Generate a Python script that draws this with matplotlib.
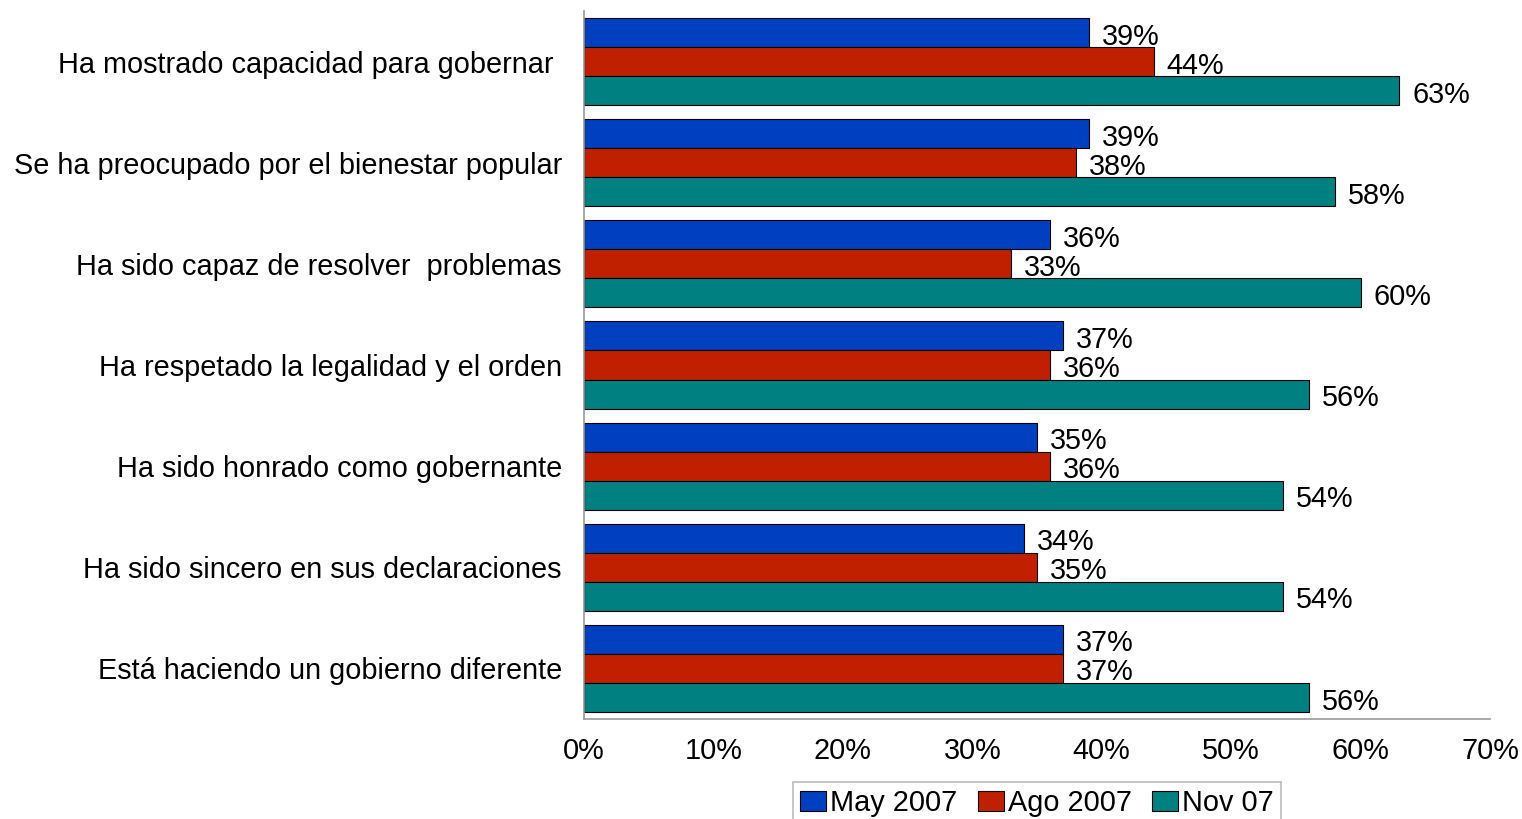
import matplotlib.pyplot as plt
import numpy as np

plt.rcParams['font.family'] = ['Liberation Sans', 'DejaVu Sans']

categories = [
    "Ha mostrado capacidad para gobernar ",
    "Se ha preocupado por el bienestar popular",
    "Ha sido capaz de resolver  problemas",
    "Ha respetado la legalidad y el orden",
    "Ha sido honrado como gobernante",
    "Ha sido sincero en sus declaraciones",
    "Está haciendo un gobierno diferente",
]
may_2007 = [39, 39, 36, 37, 35, 34, 37]
ago_2007 = [44, 38, 33, 36, 36, 35, 37]
nov_07 = [63, 58, 60, 56, 54, 54, 56]
series_names = ["May 2007", "Ago 2007", "Nov 07"]
colors = ["#0040C0", "#C02000", "#008080"]

fs = 20.8

fig = plt.figure(figsize=(15.22, 8.19), dpi=100)
ax = fig.add_axes([0.3837, 0.1221, 0.979 - 0.3837, 0.9866 - 0.1221])

y = np.arange(len(categories))
h = 0.287
for i, (vals, name, c) in enumerate(zip([may_2007, ago_2007, nov_07], series_names, colors)):
    pos = y + (i - 1) * h
    ax.barh(pos, vals, height=h, color=c, edgecolor='black', linewidth=0.8, label=name)
    for p, v in zip(pos, vals):
        ax.text(v + 1.0, p + 0.04, f"{v}%", va='center', ha='left', fontsize=fs)

ax.set_xlim(0, 70)
ax.set_ylim(len(categories) - 0.5, -0.5)
ax.set_yticks(y)
ax.set_yticklabels(categories, fontsize=fs)
ax.set_xticks(np.arange(0, 71, 10))
ax.set_xticklabels([f"{t}%" for t in range(0, 71, 10)], fontsize=fs)
ax.tick_params(length=0)
ax.tick_params(axis='y', pad=16)
ax.tick_params(axis='x', pad=13)
for s in ['top', 'right']:
    ax.spines[s].set_visible(False)
for s in ['left', 'bottom']:
    ax.spines[s].set_color('#999999')
    ax.spines[s].set_linewidth(1.2)

leg = ax.legend(loc='upper center', bbox_to_anchor=(0.5, -0.089), ncol=3, frameon=True,
                fancybox=False, edgecolor='#aaaaaa', fontsize=fs, handlelength=0.9,
                handleheight=0.7, handletextpad=0.14, columnspacing=0.7, borderpad=0.25,
                borderaxespad=0)
leg.get_frame().set_linewidth(1.2)

fig.savefig("out.png", dpi=100)
